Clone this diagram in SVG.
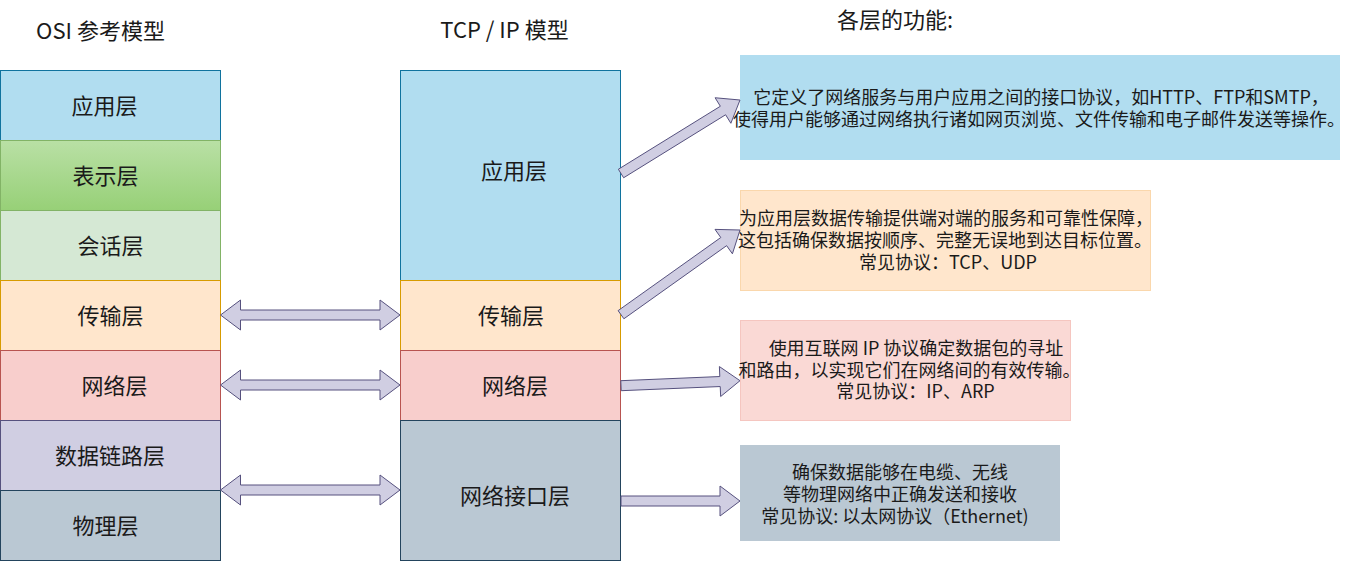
<svg xmlns="http://www.w3.org/2000/svg" width="1361" height="561" viewBox="0 0 1361 561">
<style>
text{font-family:"Noto Sans CJK SC","Noto Sans",sans-serif;fill:#1a1a1a;text-anchor:middle;dominant-baseline:central}
.h{font-size:22px}
.l{font-size:22px}
.d{font-size:18px}
.arr{fill:#d0cee2;stroke:#56517e;stroke-width:1;stroke-linejoin:miter}
</style>
<defs>
<linearGradient id="g" x1="0" y1="0" x2="0" y2="1">
<stop offset="0" stop-color="#b9e0a5"/>
<stop offset="1" stop-color="#97d077"/>
</linearGradient>
</defs>
<rect width="1361" height="561" fill="#ffffff"/>
<g id="headers">
<text class="h" x="100.5" y="29">OSI 参考模型</text>
<text class="h" x="504.5" y="28">TCP / IP 模型</text>
<text class="h" x="895" y="18">各层的功能:</text>
</g>
<g id="osi">
<g id="osi-app"><rect x="0.5" y="70.5" width="220" height="70" fill="#b1ddf0" stroke="#10739e"/><text class="l" x="104.5" y="103.5">应用层</text></g>
<g id="osi-pres"><rect x="0.5" y="140.5" width="220" height="70" fill="url(#g)" stroke="#82b366"/><text class="l" x="105.5" y="173.5">表示层</text></g>
<g id="osi-sess"><rect x="0.5" y="210.5" width="220" height="70" fill="#d5e8d4" stroke="#82b366"/><text class="l" x="110.5" y="243.5">会话层</text></g>
<g id="osi-trans"><rect x="0.5" y="280.5" width="220" height="70" fill="#ffe6cc" stroke="#d79b00"/><text class="l" x="110.5" y="313.5">传输层</text></g>
<g id="osi-net"><rect x="0.5" y="350.5" width="220" height="70" fill="#f8cecc" stroke="#b85450"/><text class="l" x="114.5" y="383.5">网络层</text></g>
<g id="osi-link"><rect x="0.5" y="420.5" width="220" height="70" fill="#d0cee2" stroke="#56517e"/><text class="l" x="110" y="453.5">数据链路层</text></g>
<g id="osi-phys"><rect x="0.5" y="490.5" width="220" height="70" fill="#bac8d3" stroke="#23445d"/><text class="l" x="105.5" y="523.5">物理层</text></g>
</g>
<g id="tcpip">
<g id="tcp-app"><rect x="400.5" y="70.5" width="220" height="210" fill="#b1ddf0" stroke="#10739e"/><text class="l" x="514" y="168.5">应用层</text></g>
<g id="tcp-trans"><rect x="400.5" y="280.5" width="220" height="70" fill="#ffe6cc" stroke="#d79b00"/><text class="l" x="511" y="313.5">传输层</text></g>
<g id="tcp-net"><rect x="400.5" y="350.5" width="220" height="70" fill="#f8cecc" stroke="#b85450"/><text class="l" x="515" y="383.5">网络层</text></g>
<g id="tcp-if"><rect x="400.5" y="420.5" width="220" height="140" fill="#bac8d3" stroke="#23445d"/><text class="l" x="515" y="493.5">网络接口层</text></g>
</g>
<g id="desc">
<g id="desc-app"><rect x="740" y="55" width="600" height="105" fill="#b1ddf0"/>
<text class="d" x="1041" y="95.5">它定义了网络服务与用户应用之间的接口协议，如HTTP、FTP和SMTP，</text>
<text class="d" x="1039" y="117.5">使得用户能够通过网络执行诸如网页浏览、文件传输和电子邮件发送等操作。</text></g>
<g id="desc-trans"><rect x="740.5" y="190.5" width="410" height="100" fill="#ffe6cc" stroke="#fad7ac"/>
<text class="d" x="946" y="216.5">为应用层数据传输提供端对端的服务和可靠性保障，</text>
<text class="d" x="945" y="238.5">这包括确保数据按顺序、完整无误地到达目标位置。</text>
<text class="d" x="948" y="260.5">常见协议：TCP、UDP</text></g>
<g id="desc-net"><rect x="740.5" y="320.5" width="330" height="100" fill="#fad9d5" stroke="#f5c6c0"/>
<text class="d" x="916" y="347">使用互联网 IP 协议确定数据包的寻址</text>
<text class="d" x="909.5" y="369">和路由，以实现它们在网络间的有效传输。</text>
<text class="d" x="915.5" y="390">常见协议：IP、ARP</text></g>
<g id="desc-if"><rect x="740" y="445" width="320" height="96" fill="#bac8d3"/>
<text class="d" x="900" y="471">确保数据能够在电缆、无线</text>
<text class="d" x="900" y="493">等物理网络中正确发送和接收</text>
<text class="d" x="895" y="514.5">常见协议: 以太网协议（Ethernet)</text></g>
</g>
<g id="connectors">
<polygon class="arr" points="220.5,315 240.5,300 240.5,310 380,310 380,300 400,315 380,330 380,320 240.5,320 240.5,330"/>
<polygon class="arr" points="220.5,385 240.5,370 240.5,380 380,380 380,370 400,385 380,400 380,390 240.5,390 240.5,400"/>
<polygon class="arr" points="220.5,490 240.5,475 240.5,485 380,485 380,475 400,490 380,505 380,495 240.5,495 240.5,505"/>
<polygon class="arr" points="623.63,177.75 725.61,114.76 730.86,123.27 740,100 715.10,97.75 720.35,106.26 618.37,169.25"/>
<polygon class="arr" points="623.90,318.77 726.61,245.67 732.41,253.82 740,230 715.01,229.38 720.81,237.53 618.10,310.63"/>
<polygon class="arr" points="621.21,390.7 720.23,386.54 720.65,396.53 740,380.7 719.39,366.55 719.81,376.54 620.79,380.7"/>
<polygon class="arr" points="621,506 720,506 720,516 740,501 720,486 720,496 621,496"/>
</g>
</svg>
